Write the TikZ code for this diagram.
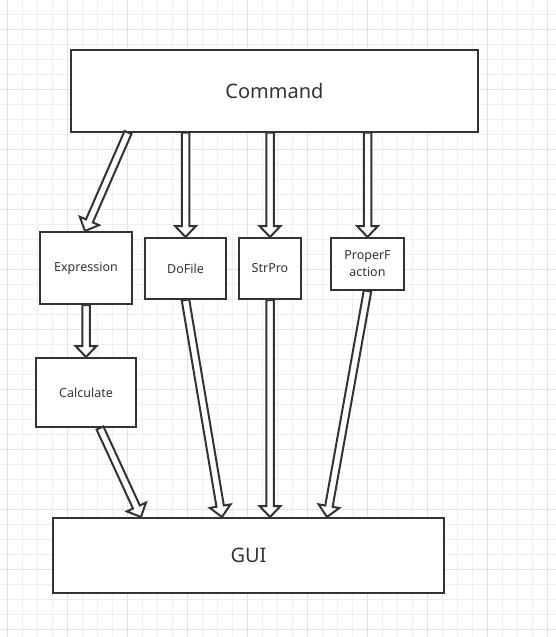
\documentclass[tikz,border=0pt]{standalone}
\usepackage{fontspec}
\setmainfont{Noto Sans}
\usetikzlibrary{calc}
\definecolor{ink}{HTML}{333333}
\definecolor{gridminor}{HTML}{EFEFEF}
\definecolor{gridmajor}{HTML}{E2E2E2}
\tikzset{
  box/.style={draw=ink, line width=2pt, fill=white, text=ink, rectangle, inner sep=2pt, font=\fontsize{12.5}{17}\selectfont, align=center},
  flex/.style={draw=ink, line width=2pt, fill=white, line join=miter},
}
\newcommand\flexarrow[2]{%
  \coordinate (fa-s) at (#1);
  \coordinate (fa-e) at (#2);
  \coordinate (fa-c) at ($(fa-e)!11pt!(fa-s)$);
  \draw[flex] ($(fa-s)!3.75pt!90:(fa-e)$) -- ($(fa-c)!3.75pt!90:(fa-e)$) -- ($(fa-c)!10.5pt!90:(fa-e)$) -- (fa-e)
     -- ($(fa-c)!10.5pt!-90:(fa-e)$) -- ($(fa-c)!3.75pt!-90:(fa-e)$) -- ($(fa-s)!3.75pt!-90:(fa-e)$) -- cycle;
}
\begin{document}
\begin{tikzpicture}[x=1pt,y=-1pt]
\useasboundingbox (0,0) rectangle (556,637);
\fill[white] (0,0) rectangle (556,637);
% grid
\foreach \x in {7,22,...,556} \draw[gridminor, line width=1pt] (\x,0) -- (\x,637);
\foreach \y in {14,29,...,637} \draw[gridminor, line width=1pt] (0,\y) -- (556,\y);
\foreach \x in {7,67,...,556} \draw[gridmajor, line width=1pt] (\x,0) -- (\x,637);
\foreach \y in {29,89,...,637} \draw[gridmajor, line width=1pt] (0,\y) -- (556,\y);
% boxes
\node[box, minimum width=407pt, minimum height=82pt, font=\fontsize{20}{24}\selectfont] (cmd) at (274.5,90.5) {Command};
\node[box, minimum width=92pt, minimum height=72pt] (expr) at (86,268) {Expression};
\node[box, minimum width=81pt, minimum height=61pt] (dofile) at (185.5,268.5) {DoFile};
\node[box, minimum width=62pt, minimum height=61pt] (strpro) at (270,268.5) {StrPro};
\node[box, minimum width=73pt, minimum height=52pt] (proper) at (367.5,264) {ProperF\\action};
\node[box, minimum width=100pt, minimum height=69pt] (calc) at (86,392.5) {Calculate};
\node[box, minimum width=391pt, minimum height=75pt, font=\fontsize{20}{24}\selectfont] (gui) at (248.5,555.5) {GUI};
% arrows
\flexarrow{$(cmd.south west)+(58,0)$}{$(expr.north)+(-1,0)$}
\flexarrow{cmd.south -| dofile.north}{dofile.north}
\flexarrow{cmd.south -| strpro.north}{strpro.north}
\flexarrow{cmd.south -| proper.north}{proper.north}
\flexarrow{expr.south}{calc.north}
\flexarrow{$(calc.south)+(14,0)$}{$(gui.north west)+(89,0)$}
\flexarrow{dofile.south}{$(gui.north west)+(170,0)$}
\flexarrow{strpro.south}{strpro.south |- gui.north}
\flexarrow{proper.south}{$(gui.north west)+(275,0)$}
\end{tikzpicture}
\end{document}
